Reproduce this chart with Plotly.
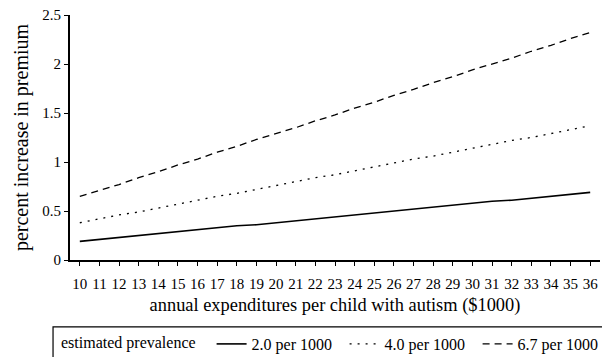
import plotly.graph_objects as go

expenditure = list(range(10, 37))
prev_2_0 = [0.19, 0.21, 0.23, 0.25, 0.27, 0.29, 0.31, 0.33, 0.35, 0.36, 0.38, 0.40, 0.42, 0.44,
            0.46, 0.48, 0.50, 0.52, 0.54, 0.56, 0.58, 0.60, 0.61, 0.63, 0.65, 0.67, 0.69]
prev_4_0 = [0.38, 0.42, 0.46, 0.49, 0.53, 0.57, 0.61, 0.65, 0.68, 0.72, 0.76, 0.80, 0.84, 0.87,
            0.91, 0.95, 0.99, 1.03, 1.06, 1.10, 1.14, 1.18, 1.22, 1.25, 1.29, 1.33, 1.37]
prev_6_7 = [0.65, 0.71, 0.77, 0.84, 0.90, 0.97, 1.03, 1.10, 1.16, 1.23, 1.29, 1.35, 1.42, 1.48,
            1.55, 1.61, 1.68, 1.74, 1.81, 1.87, 1.94, 2.00, 2.06, 2.13, 2.19, 2.26, 2.32]
y_ticks = [0, 0.5, 1, 1.5, 2, 2.5]
y_tick_text = ["0", "0.5", "1", "1.5", "2", "2.5"]

font = "Liberation Serif, Times New Roman, serif"

fig = go.Figure()
fig.add_trace(go.Scatter(x=expenditure, y=prev_2_0, mode="lines", name="2.0 per 1000",
                         line=dict(color="black", width=1.6, dash="solid")))
fig.add_trace(go.Scatter(x=expenditure, y=prev_4_0, mode="lines", name="4.0 per 1000",
                         line=dict(color="black", width=1.3, dash="2px,6px")))
fig.add_trace(go.Scatter(x=expenditure, y=prev_6_7, mode="lines", name="6.7 per 1000",
                         line=dict(color="black", width=1.3, dash="7px,5px")))

fig.update_layout(
    width=602, height=357,
    margin=dict(l=70, r=2, t=15, b=97, autoexpand=False),
    paper_bgcolor="white", plot_bgcolor="white",
    font=dict(family=font, color="black", size=15),
    xaxis=dict(
        range=[9.5, 36.5], tickmode="array", tickvals=expenditure,
        ticktext=[str(v) for v in expenditure],
        showline=True, linecolor="black", linewidth=1.8,
        ticks="outside", ticklen=4, tickcolor="black", ticklabelstandoff=5,
        showgrid=False, zeroline=False,
        title=dict(text="annual expenditures per child with autism ($1000)",
                   font=dict(size=18.4, family=font), standoff=7),
        tickfont=dict(size=15, family=font),
    ),
    yaxis=dict(
        range=[0, 2.5], tickmode="array", tickvals=y_ticks, ticktext=y_tick_text,
        showline=True, linecolor="black", linewidth=1.8,
        ticks="outside", ticklen=4, tickcolor="black",
        showgrid=False, zeroline=False,
        title=dict(text="percent increase in premium", font=dict(size=20, family=font), standoff=8),
        tickfont=dict(size=15, family=font),
    ),
    legend=dict(
        orientation="h", xref="container", yref="container",
        x=59 / 602, y=(357 - 327) / 357, xanchor="left", yanchor="top",
        borderwidth=0, bgcolor="rgba(0,0,0,0)",
        title=dict(text="estimated prevalence\u00a0\u00a0", side="left", font=dict(size=16, family=font)),
        font=dict(size=16, family=font), tracegroupgap=0, entrywidth=88,
    ),
    shapes=[dict(type="rect", xref="paper", yref="paper",
                 x0=-0.032, x1=1.02, y0=-0.273, y1=-0.5,
                 line=dict(color="black", width=1.2), fillcolor="rgba(0,0,0,0)")],
    showlegend=True,
)

fig.write_html("out.html")
